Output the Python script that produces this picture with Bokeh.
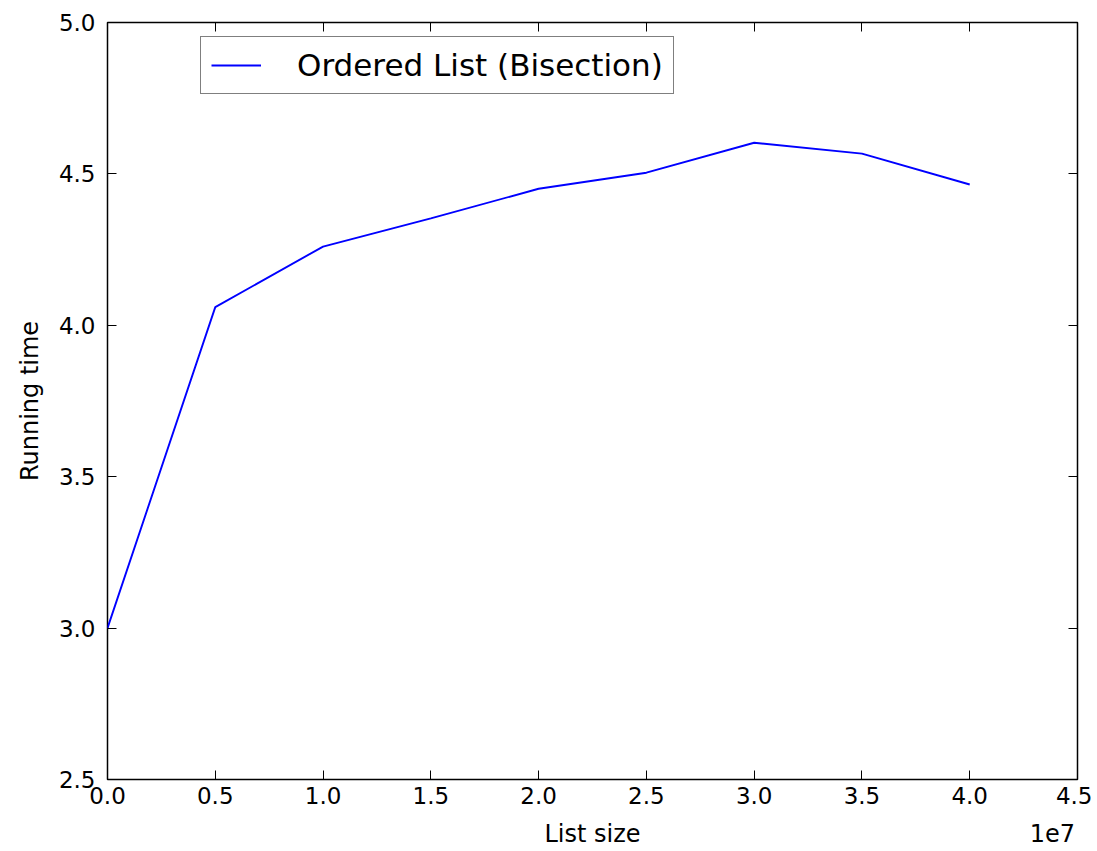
from bokeh.plotting import figure
from bokeh.models import Range1d, LinearAxis, FixedTicker, CustomJSTickFormatter, Legend, LegendItem
from bokeh.embed import file_html
from bokeh.resources import INLINE

list_size = [0, 5000000, 10000000, 15000000, 20000000, 25000000, 30000000, 35000000, 40000000]
running_time = [3.0, 4.06, 4.26, 4.353, 4.451, 4.504, 4.603, 4.567, 4.465]
x_ticks = [0, 5e6, 1e7, 1.5e7, 2e7, 2.5e7, 3e7, 3.5e7, 4e7, 4.5e7]
y_ticks = [2.5, 3.0, 3.5, 4.0, 4.5, 5.0]
series_name = "Ordered List (Bisection)"
x_title = "List size"
x_offset_text = "1e7"
y_title = "Running time"

FONT = "DejaVu Sans"
p = figure(width=1092, height=850, output_backend="svg", toolbar_location=None,
           x_range=Range1d(0, 4.5e7), y_range=Range1d(2.5, 5.0),
           min_border_left=107, min_border_right=15, min_border_top=22, min_border_bottom=70)
p.grid.visible = False
p.outline_line_color = "black"
p.outline_line_width = 1.5

line = p.line(list_size, running_time, line_color="#0000ff", line_width=1.9)

def style(ax):
    ax.major_tick_in = 9
    ax.major_tick_out = 0
    ax.minor_tick_in = 0
    ax.minor_tick_out = 0
    ax.axis_line_color = None
    ax.major_tick_line_color = "black"
    ax.major_tick_line_width = 1
    ax.major_label_text_font = FONT
    ax.major_label_text_font_size = "23px"
    ax.major_label_text_color = "black"
    ax.axis_label_text_font = FONT
    ax.axis_label_text_font_size = "24px"
    ax.axis_label_text_font_style = "normal"
    ax.axis_label_text_color = "black"

p.xaxis.ticker = FixedTicker(ticks=x_ticks)
p.xaxis.formatter = CustomJSTickFormatter(code="return (tick/1e7).toFixed(1);")
p.xaxis.major_label_standoff = 7
p.yaxis.ticker = FixedTicker(ticks=y_ticks)
p.yaxis.formatter = CustomJSTickFormatter(code="return tick.toFixed(1);")
p.yaxis.axis_label = y_title
p.yaxis.major_label_standoff = 12
p.yaxis.axis_label_standoff = 12
style(p.xaxis[0])
style(p.yaxis[0])

# second row below the x tick labels: the axis title (centred) and the 1e7 offset text (right)
title_row = LinearAxis(ticker=FixedTicker(ticks=[2.25e7, 4.383e7]),
                       formatter=CustomJSTickFormatter(
                           args=dict(a=x_title, b=x_offset_text),
                           code="return index == 0 ? a : b;"))
style(title_row)
title_row.major_tick_in = 0
title_row.major_tick_line_color = None
title_row.major_label_text_font_size = "24px"
title_row.major_label_standoff = 13
p.add_layout(title_row, "below")

blank = CustomJSTickFormatter(code="return '';")
top = LinearAxis(ticker=FixedTicker(ticks=x_ticks), formatter=blank)
style(top)
p.add_layout(top, "above")
right = LinearAxis(ticker=FixedTicker(ticks=y_ticks), formatter=blank)
style(right)
p.add_layout(right, "right")

legend = Legend(items=[LegendItem(label=series_name, renderers=[line])],
                location=(93, 685))
legend.border_line_color = "black"
legend.border_line_width = 1.5
legend.label_text_font = FONT
legend.label_text_font_size = "31px"
legend.label_text_color = "black"
legend.glyph_width = 50
legend.label_standoff = 36
legend.padding = 10
legend.margin = 0
legend.background_fill_alpha = 1
p.add_layout(legend)

open("out.html", "w").write(file_html(p, INLINE))
